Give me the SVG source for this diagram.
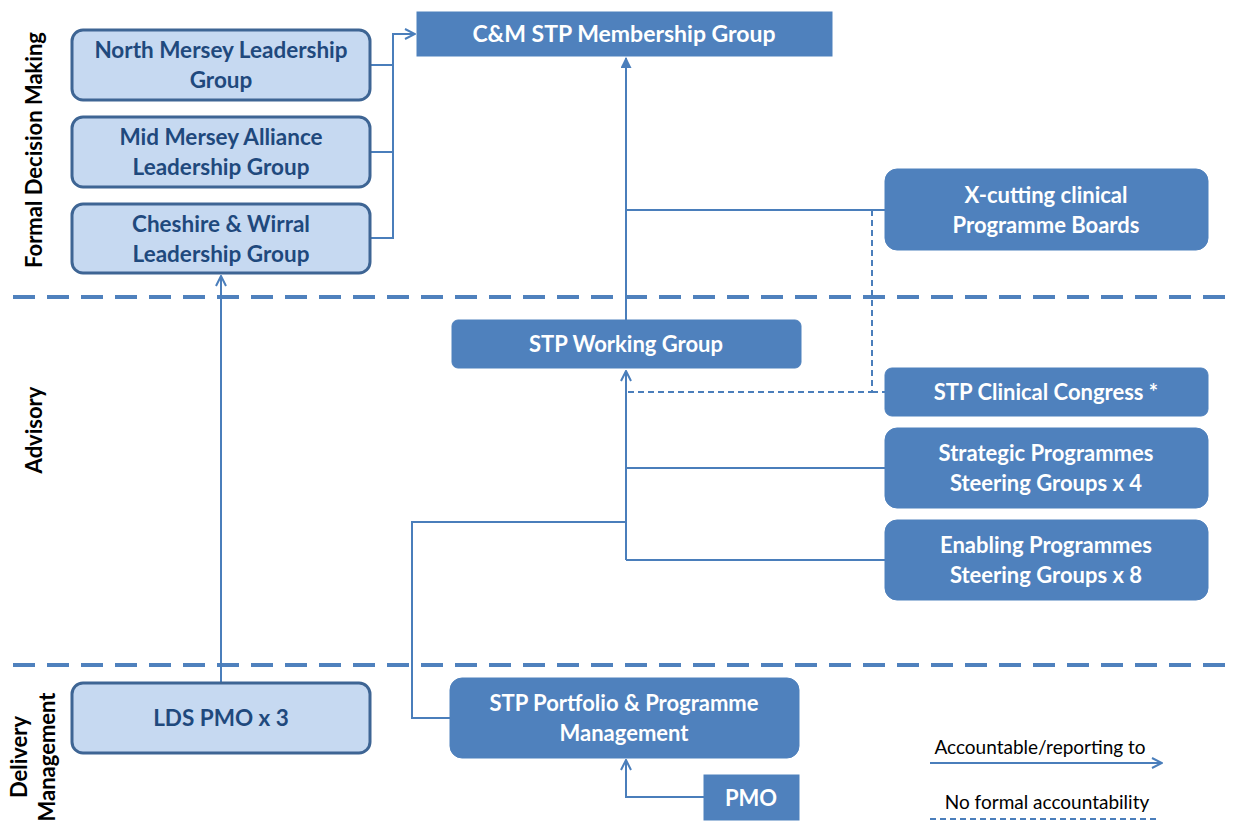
<svg xmlns="http://www.w3.org/2000/svg" width="1235" height="825" viewBox="0 0 1235 825">
<defs>
<marker id="open" viewBox="0 0 12 12" refX="11" refY="6" markerWidth="12" markerHeight="12" markerUnits="userSpaceOnUse" orient="auto">
<path d="M1,1 L11,6 L1,11" fill="none" stroke="#4a7ebb" stroke-width="2"/>
</marker>
<marker id="filled" viewBox="0 0 10 10" refX="9" refY="5" markerWidth="11" markerHeight="11" markerUnits="userSpaceOnUse" orient="auto">
<path d="M0,0 L10,5 L0,10 Z" fill="#4a7ebb"/>
</marker>
</defs>
<style>
.lt{fill:#c6d9f1;stroke:#3e6594;stroke-width:3}
.dk{fill:#4f81bd;stroke:#4f81bd;stroke-width:1}
.tl{font-family:Lato,"Liberation Sans",sans-serif;font-weight:bold;font-size:22.5px;fill:#1f497d;text-anchor:middle}
.tw{font-family:Lato,"Liberation Sans",sans-serif;font-weight:bold;font-size:22px;fill:#ffffff;text-anchor:middle}
.side{font-family:Lato,"Liberation Sans",sans-serif;font-weight:bold;font-size:22px;fill:#000;text-anchor:middle}
.leg{font-family:Lato,"Liberation Sans",sans-serif;font-size:19px;fill:#000;text-anchor:middle}
.div{stroke:#4f81bd;stroke-width:4;stroke-dasharray:22 12;fill:none}
.c{stroke:#4a7ebb;stroke-width:2;fill:none}
.d{stroke:#4a7ebb;stroke-width:2;fill:none;stroke-dasharray:6 4}
</style>
<rect width="1235" height="825" fill="#ffffff"/>
<g id="dividers">
<line class="div" x1="13" y1="297" x2="1235" y2="297"/>
<line class="div" x1="13" y1="665" x2="1235" y2="665"/>
</g>
<g id="side-labels">
<text class="side" transform="translate(42,150) rotate(-90)">Formal Decision Making</text>
<text class="side" transform="translate(42,430) rotate(-90)">Advisory</text>
<text class="side" transform="translate(27,757) rotate(-90)">Delivery</text>
<text class="side" transform="translate(55,757) rotate(-90)">Management</text>
</g>
<g id="connectors">
<polyline class="c" points="371,65 393,65"/>
<polyline class="c" points="371,152 393,152"/>
<polyline class="c" points="371,238 393,238 393,34 415,34" marker-end="url(#open)"/>
<polyline class="c" points="626,320 626,58" marker-end="url(#filled)"/>
<polyline class="c" points="626,210 885,210"/>
<polyline class="d" points="872,210 872,392 626,392"/>
<polyline class="d" points="872,392 885,392"/>
<polyline class="c" points="626,560 626,371" marker-end="url(#open)"/>
<polyline class="c" points="626,468 885,468"/>
<polyline class="c" points="626,560 885,560"/>
<polyline class="c" points="626,522 412,522 412,718 450,718"/>
<polyline class="c" points="221,683 221,276" marker-end="url(#open)"/>
<polyline class="c" points="704,797 626,797 626,760" marker-end="url(#open)"/>
</g>
<g id="n-north-mersey">
<rect class="lt" x="72" y="30" width="298" height="70" rx="11"/>
<text class="tl" x="221" y="58">North Mersey Leadership</text>
<text class="tl" x="221" y="88">Group</text>
</g>
<g id="n-mid-mersey">
<rect class="lt" x="72" y="117" width="298" height="70" rx="11"/>
<text class="tl" x="221" y="145">Mid Mersey Alliance</text>
<text class="tl" x="221" y="175">Leadership Group</text>
</g>
<g id="n-cheshire-wirral">
<rect class="lt" x="72" y="204" width="298" height="69" rx="11"/>
<text class="tl" x="221" y="232">Cheshire &amp; Wirral</text>
<text class="tl" x="221" y="262">Leadership Group</text>
</g>
<g id="n-cm-stp">
<rect class="dk" x="417" y="12" width="415" height="44"/>
<text class="tw" x="624" y="42" style="font-size:23px">C&amp;M STP Membership Group</text>
</g>
<g id="n-xcutting">
<rect class="dk" x="885" y="169" width="323" height="81" rx="12"/>
<text class="tw" x="1046" y="203">X-cutting clinical</text>
<text class="tw" x="1046" y="233">Programme Boards</text>
</g>
<g id="n-stp-working">
<rect class="dk" x="452" y="320" width="349" height="48" rx="6"/>
<text class="tw" x="626" y="352">STP Working Group</text>
</g>
<g id="n-clinical-congress">
<rect class="dk" x="885" y="368" width="323" height="48" rx="7"/>
<text class="tw" x="1046" y="400">STP Clinical Congress *</text>
</g>
<g id="n-strategic">
<rect class="dk" x="885" y="428" width="323" height="80" rx="12"/>
<text class="tw" x="1046" y="461">Strategic Programmes</text>
<text class="tw" x="1046" y="491">Steering Groups x 4</text>
</g>
<g id="n-enabling">
<rect class="dk" x="885" y="520" width="323" height="80" rx="12"/>
<text class="tw" x="1046" y="553">Enabling Programmes</text>
<text class="tw" x="1046" y="583">Steering Groups x 8</text>
</g>
<g id="n-lds-pmo">
<rect class="lt" x="72" y="683" width="298" height="70" rx="11"/>
<text class="tl" x="221" y="726">LDS PMO x 3</text>
</g>
<g id="n-portfolio">
<rect class="dk" x="450" y="678" width="349" height="80" rx="12"/>
<text class="tw" x="624" y="711">STP Portfolio &amp; Programme</text>
<text class="tw" x="624" y="741">Management</text>
</g>
<g id="n-pmo">
<rect class="dk" x="704" y="775" width="95" height="45"/>
<text class="tw" x="751" y="806">PMO</text>
</g>
<g id="legend">
<text class="leg" x="1040" y="754">Accountable/reporting to</text>
<line class="c" x1="930" y1="763" x2="1162" y2="763" marker-end="url(#open)"/>
<text class="leg" x="1047" y="809">No formal accountability</text>
<line class="d" x1="930" y1="819" x2="1160" y2="819"/>
</g>
</svg>
